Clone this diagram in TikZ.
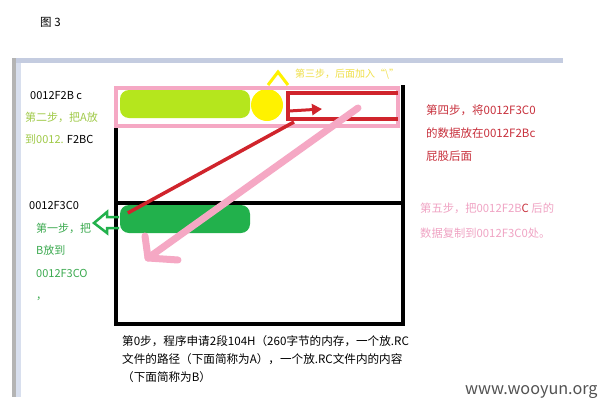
\documentclass[tikz,border=0pt]{standalone}
\usepackage{fontspec}
\setmainfont{Noto Sans CJK SC}
\usetikzlibrary{arrows.meta,positioning}
\definecolor{paintLime}{HTML}{B5E61D}
\definecolor{paintYellow}{HTML}{FFF200}
\definecolor{paintGreen}{HTML}{22B14C}
\definecolor{paintRed}{HTML}{D0242C}
\definecolor{paintPink}{HTML}{F5A8C4}
\definecolor{txtLime}{HTML}{A0CA48}
\definecolor{txtGreen}{HTML}{3CAA50}
\definecolor{txtRed}{HTML}{C8303C}
\definecolor{txtPink}{HTML}{F0A4C4}
\definecolor{txtYellow}{HTML}{F0E048}
\definecolor{winBlue}{HTML}{C4CCE0}
\definecolor{winLight}{HTML}{D8DFEE}
\definecolor{winGray}{HTML}{B4B4B4}

\begin{document}
\begin{tikzpicture}[x=1pt,y=-1pt,
  lbl/.style={anchor=west,inner sep=0pt,align=left,font=\fontsize{11}{22.5}\selectfont},
  blob/.style={rounded corners=9pt,inner sep=0pt,minimum width=130pt,minimum height=28pt},
  paint/.style={line width=4pt}]
  \useasboundingbox (0,0) rectangle (603,402);
  \fill[white] (0,0) rectangle (603,402);
  % window edge
  \fill[winGray] (12,58) rectangle (16,397);
  \fill[winLight] (16,58) rectangle (21,397);
  \fill[winBlue] (16,58) rectangle (563,63);
  \node[lbl,font=\fontsize{11.5}{14}\selectfont] (fig) at (40,22) {图 3};
  % memory block
  \draw[paint,line width=4.5pt] (116,88) -- (116,324) -- (403,324) -- (403,85);
  \draw[paint] (116,203) -- (405,203);
  \node[blob,fill=paintLime] (A) at (185,104) {};
  \node[circle,fill=paintYellow,minimum size=32pt,inner sep=0pt] (dot) at (267,105) {};
  \draw[paintYellow,line width=3pt] (268,85) -- (278,72) -- (288,85);
  \draw[paintPink,paint] (116,88) rectangle (398,126);
  \draw[paintRed,paint] (398,93) -- (288,93) -- (288,119) -- (398,119);
  \draw[paintRed,line width=3pt,-{Triangle[length=10pt,width=11pt]}] (289,111) -- (322,109);
  \node[blob,fill=paintGreen] (B) at (185,219) {};
  % steps
  \coordinate (redEnd) at (294,122);
  \draw[paintRed,line width=3.5pt] ([xshift=8pt,yshift=6pt]B.west) -- (redEnd);
  \coordinate (pkStart) at (358,108);
  \coordinate (pkTip) at (148,258);
  \draw[paintPink,line width=7pt,line cap=round] (pkStart) -- (pkTip);
  \draw[paintPink,line width=7pt,line cap=round,line join=round] (145,236) -- (pkTip) -- (178,260);
  \draw[paintGreen,line width=2.5pt] (119,217) -- (107,217) -- (107,212) -- (94,223)
    -- (107,233) -- (107,228) -- (119,228);
  % labels
  \node[lbl] (adrA) at (30,96) {0012F2B c};
  \node[lbl,anchor=north west,text=txtLime] (stepTwo) at (25,112)
    {第二步，把A放\\到0012. \textcolor{black}{F2BC}};
  \node[lbl] (adrB) at (29,205) {0012F3C0};
  \node[lbl,anchor=north west,text=txtGreen] (stepOne) at (36,223)
    {第一步，把\\B放到\\0012F3CO\\，};
  \node[lbl,text=txtYellow,font=\fontsize{10}{12}\selectfont] (stepThree) at (295,74) {第三步，后面加入“\textbackslash”};
  \node[lbl,anchor=north west,text=txtRed,font=\fontsize{11.5}{23}\selectfont] (stepFour) at (426,105)
    {第四步，将0012F3C0\\的数据放在0012F2Bc\\屁股后面};
  \node[lbl,anchor=north west,text=txtPink,font=\fontsize{11.3}{25}\selectfont] (stepFive) at (420,203)
    {第五步，把0012F2B\textcolor{txtRed}{C} 后的\\数据复制到0012F3C0处。};
  \node[lbl,anchor=north west,font=\fontsize{11.6}{18}\selectfont] (stepZero) at (122,335)
    {第0步，程序申请2段104H（260字节的内存，一个放.RC\\文件的路径（下面简称为A），一个放.RC文件内的内容\\（下面简称为B）};
  \node[lbl,text=black!68,font=\fontsize{16.2}{18}\selectfont] (site) at (465,392) {www.wooyun.org};
\end{tikzpicture}
\end{document}
